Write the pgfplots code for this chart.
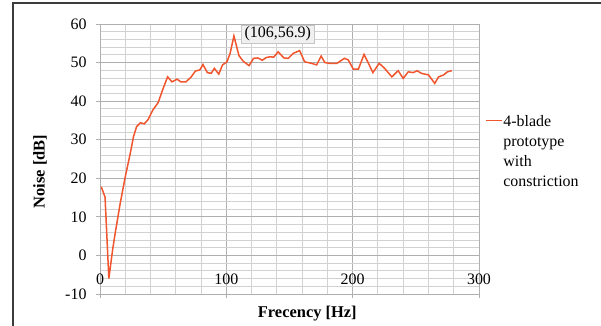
\documentclass[border=0pt]{standalone}
\usepackage{pgfplots}
\pgfplotsset{compat=1.18}
\usepackage{fontspec}
\setmainfont{Liberation Serif}
\definecolor{lineor}{RGB}{240,85,45}
\definecolor{gmaj}{RGB}{175,175,175}
\definecolor{gmin}{RGB}{210,210,210}
\definecolor{frame}{RGB}{60,60,60}
\begin{document}
\begin{tikzpicture}
\useasboundingbox (-100bp,-32bp) rectangle (501bp,294bp);
\draw[frame, line width=1.3bp] (-87bp,-32bp) -- (-87bp,291bp) -- (501bp,291bp);
\begin{axis}[
  scale only axis,
  width=379bp, height=270bp,
  at={(0,0)}, anchor=south west,
  xmin=0, xmax=300, ymin=-10, ymax=60,
  xtick={0,100,200,300},
  minor xtick={20,40,60,80,120,140,160,180,220,240,260,280},
  ytick={-10,0,...,60},
  minor ytick={-8,-6,...,58},
  grid=both,
  major grid style={gmaj, line width=1bp},
  minor grid style={gmin, line width=0.9bp},
  axis line style={gmaj, line width=1bp},
  tick style={gmaj, line width=1bp},
  major tick length=4bp, minor tick length=0pt,
  tick align=outside,
  xtick pos=bottom, ytick pos=left,
  /pgf/number format/assume math mode=true,
  tick label style={font=\fontsize{16}{19}\selectfont},
  xticklabel style={yshift=28bp},
  yticklabel style={xshift=-6bp},
  xlabel={\textbf{Frecency [Hz]}},
  ylabel={\textbf{Noise [dB]}},
  every axis x label/.style={at={(axis description cs:0.547,-0.074)}, anchor=center, font=\fontsize{16.5}{19}\selectfont},
  every axis y label/.style={at={(axis description cs:-0.158,0.454)}, anchor=center, rotate=90, font=\fontsize{16.5}{19}\selectfont},
  legend style={at={(axis description cs:1.015,0.675)}, anchor=north west, draw=none, fill=none,
    font=\fontsize{16}{20}\selectfont, inner sep=0pt, nodes={inner sep=1bp}},
  legend image code/.code={\draw[#1] (0bp,0bp) -- (16bp,0bp);},
  legend cell align=left,
]
\addplot[lineor, line width=1.5bp] coordinates {
(1,17.8) (4,15.1) (7,-6) (10,1.5) (12,5.7) (16,13.5) (20,20.4) (24,26.5)
(26.5,30.8) (29,33.4) (32,34.4) (35,34.1) (38,35.2) (42,37.8) (46,39.6)
(50,43.3) (53.5,46.3) (57,45) (61,45.7) (64,45) (68,45) (72,46.2)
(75.5,47.8) (79,48.1) (81.5,49.5) (85,47.4) (88,47.2) (90.5,48.5) (94,47)
(97,49.4) (100.5,50.2) (103,52.4) (106,56.9) (110,51.8) (113.5,50.3)
(118,49.2) (121.5,51.1) (125,51.2) (128.5,50.6) (131.5,51.3) (134.5,51.5)
(137.5,51.4) (141,52.8) (145.5,51.2) (149,51.1) (153,52.4) (158,53.1)
(162,50.2) (167.5,49.8) (171.5,49.4) (175,51.7) (178,50) (182,49.8)
(187.5,49.8) (193.5,51.1) (196.5,50.7) (200.5,48.3) (204.5,48.3) (209,52.1)
(212.5,49.8) (216,47.4) (221,49.8) (225,48.6) (231,46.3) (236,47.9)
(240,45.9) (244,47.6) (248,47.4) (251,47.9) (254.5,47.2) (260,46.8)
(265,44.6) (268,46.3) (272,46.8) (275,47.6) (278.5,47.9)
};
\addlegendentry{\begin{tabular}[t]{@{}l@{}}4-blade\\prototype\\with\\constriction\end{tabular}}
\node[anchor=west, xshift=7bp, yshift=2bp, fill=gray!12, draw=gray!45, inner xsep=3.5bp, inner ysep=2bp,
  font=\fontsize{16}{19}\selectfont] at (axis cs:106,56.9) {(106,56.9)};
\end{axis}
\end{tikzpicture}
\end{document}
